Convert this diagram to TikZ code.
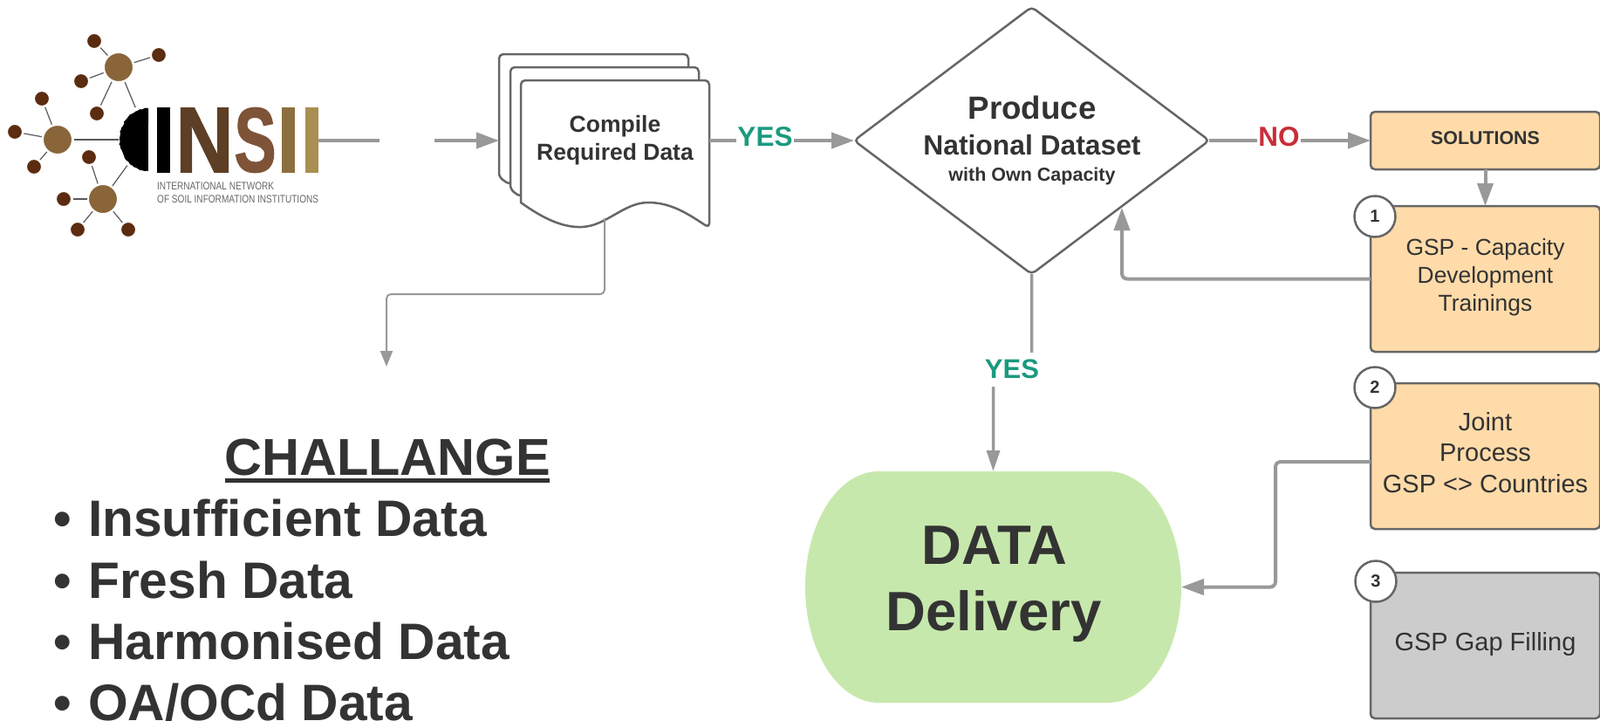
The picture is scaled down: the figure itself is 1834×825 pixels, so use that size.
\documentclass[tikz,border=0pt]{standalone}
\usepackage{fontspec}
\setmainfont{Liberation Sans}
\newfontfamily\logofont[UprightFont=* Bold,FakeBold=1.6]{Liberation Sans}
\usetikzlibrary{arrows.meta,shapes.geometric,decorations.pathmorphing}
\definecolor{ink}{HTML}{333333}
\definecolor{edgeg}{HTML}{666666}
\definecolor{lineg}{HTML}{999999}
\definecolor{okgreen}{HTML}{1A9A7F}
\definecolor{nored}{HTML}{C92D39}
\definecolor{peach}{HTML}{FFDBA9}
\definecolor{boxgrey}{HTML}{CCCCCC}
\definecolor{ovalg}{HTML}{C7E8AC}
\definecolor{satc}{HTML}{5B2C0F}
\definecolor{hubc}{HTML}{8A653A}
\definecolor{logoN}{HTML}{5C3F25}
\definecolor{logoS}{HTML}{7E5338}
\definecolor{logoI}{HTML}{8C6F3E}
\definecolor{logoJ}{HTML}{A98F52}
\newcommand\szf[1]{\fontsize{#1}{#1}\selectfont}
\newcommand\szl[2]{\fontsize{#1}{#2}\selectfont}
\tikzset{
 x=1pt,y=-1pt,
 sat/.style={circle,fill=satc,draw=white,line width=1pt,inner sep=0,minimum size=17pt,outer sep=0},
 hub/.style={circle,fill=hubc,draw=white,line width=1pt,inner sep=0,minimum size=33pt,outer sep=0},
 logolink/.style={draw=black!65,line width=1.2pt,shorten >=2pt,shorten <=2pt},
 letter/.style={inner sep=0,outer sep=0,anchor=center},
 sheet/.style={draw=edgeg,line width=2.5pt,fill=white,rounded corners=5pt,line join=round},
 flow/.style={draw=lineg,line width=4pt,rounded corners=6pt,-{Triangle[length=26pt,width=18pt]}},
 plainflow/.style={draw=lineg,line width=4pt,rounded corners=6pt},
 midflow/.style={draw=lineg,line width=3.5pt,rounded corners=3pt,-{Triangle[length=24pt,width=15pt]}},
 thinflow/.style={draw=lineg,line width=2pt,rounded corners=5pt,-{Triangle[length=18pt,width=14pt]}},
 orangebox/.style={rectangle,draw=edgeg,line width=2.5pt,fill=peach,rounded corners=5pt,minimum width=263pt,align=center,text=ink,inner sep=0,outer sep=0},
 numc/.style={circle,draw=edgeg,line width=2.5pt,fill=white,minimum size=47pt,inner sep=0,text=ink,font=\szf{20}\bfseries},
 lbl/.style={fill=white,inner sep=1pt,font=\szf{31.5}\bfseries},
 txt/.style={text=ink,inner sep=0,outer sep=0,align=center},
 bul/.style={text=ink,inner sep=0,anchor=base west,font=\szf{58.7}\bfseries},
}
\begin{document}
\begin{tikzpicture}
\useasboundingbox (0,0) rectangle (1834,825);
% logo
\node[hub] (ha) at (136,77) {};
\node[sat] (a1) at (108,47) {};
\node[sat] (a2) at (182,63) {};
\node[sat] (a3) at (93,93) {};
\node[sat] (a4) at (111,130) {};
\node[hub] (hb) at (66,160) {};
\node[sat] (b1) at (48,113) {};
\node[sat] (b2s) at (17,151) {};
\node[sat] (b3) at (39,191) {};
\node[hub] (hc) at (118,228) {};
\node[sat] (c1) at (102,180) {};
\node[sat] (c2) at (73,228) {};
\node[sat] (c3) at (89,263) {};
\node[sat] (c4) at (147,263) {};
\coordinate (semiA) at (156,125);
\coordinate (semiB) at (138,160);
\coordinate (semiC) at (147,188);
\foreach \p/\q in {ha/a1,ha/a2,ha/a3,ha/a4,hb/b1,hb/b2s,hb/b3,hc/c1,hc/c2,hc/c3,hc/c4,ha/semiA,hb/semiB,hc/semiC}
  \draw[logolink] (\p) -- (\q);
\fill[black] (170,124) decorate[decoration={random steps,segment length=2.5pt,amplitude=.8pt}]
  {arc[start angle=-90,end angle=-270,x radius=33,y radius=36]} -- cycle;
\node[letter,text=black] (li1) at (187.5,160.5) {\resizebox{26pt}{73pt}{\logofont I}};
\node[letter,text=logoN] (ln) at (234.5,160.5) {\resizebox{66pt}{73pt}{\logofont N}};
\node[letter,text=logoS] (ls) at (292.5,160.5) {\resizebox{48pt}{73pt}{\logofont S}};
\node[letter,text=logoI] (li2) at (330.5,160.5) {\resizebox{26pt}{73pt}{\logofont I}};
\node[letter,text=logoJ] (li3) at (357.5,160.5) {\resizebox{26pt}{73pt}{\logofont I}};
\node[inner sep=0,anchor=base west,text=black!60,align=left,font=\szl{12.5}{15}] (tag) at (180,232)
  {\scalebox{.805}[1]{INTERNATIONAL NETWORK}\\\scalebox{.805}[1]{OF SOIL INFORMATION INSTITUTIONS}};
% document stack
\draw[sheet] (585,212) -- (572,203) -- (572,62) -- (789,62) -- (789,90) -- (700,90) -- cycle;
\draw[sheet] (597,226) -- (585,217) -- (585,77) -- (801,77) -- (801,100) -- (700,100) -- cycle;
\draw[sheet] (597,232) -- (597,92) -- (813,92) -- (813,261) [sharp corners] .. controls (790,246) and (770,232) .. (743,232) .. controls (715,232) and (695,259) .. (667,260) .. controls (645,261) and (622,250) .. (597,232) -- cycle;
\node[txt,font=\szl{26.5}{32}\bfseries] (doc) at (705,160.4) {Compile\\Required Data};
\coordinate (docE) at (813,161);
\coordinate (docW) at (572,161);
\coordinate (docS) at (693,250);
% decision
\node[diamond,draw=edgeg,line width=2.5pt,fill=white,rounded corners=5pt,minimum width=407pt,minimum height=306pt,inner sep=0,outer sep=0] (dec) at (1182.5,161) {};
\coordinate (decIn) at (1286,238);
\node[txt,anchor=base,font=\szf{36.7}\bfseries] (t1) at (1183,136) {Produce};
\node[txt,anchor=base,font=\szf{31.8}\bfseries] (t2) at (1183,177) {National Dataset};
\node[txt,anchor=base,font=\szf{21.5}\bfseries] (t3) at (1183,207) {with Own Capacity};
% solutions
\node[orangebox,minimum height=66pt,text depth=5pt,font=\szf{21.4}\bfseries] (sol) at (1702.5,161) {SOLUTIONS};
\node[orangebox,minimum height=167pt,text depth=8.5pt,font=\szl{26.4}{32}] (b1) at (1702.5,319.5) {GSP - Capacity\\Development\\Trainings};
\node[orangebox,minimum height=167pt,text depth=9pt,font=\szl{29}{35.5}] (b2) at (1702.5,522.5) {Joint\\Process\\GSP <> Countries};
\node[orangebox,fill=boxgrey,minimum height=167pt,text depth=9pt,font=\szf{29}] (b3) at (1702.5,739.5) {GSP Gap Filling};
\node[numc] (n1) at (1576,248) {1};
\node[numc] (n2) at (1576,444) {2};
\node[numc] (n3) at (1577,666) {3};
\coordinate (b2out) at (b2.west |- 0,529);
% oval
\fill[ovalg] (1007,540) arc[start angle=-90,end angle=-270,x radius=84,y radius=132.5] -- (1270,805) arc[start angle=90,end angle=-90,x radius=84,y radius=132.5] -- cycle;
\node[inner sep=0,outer sep=0,minimum width=431pt,minimum height=265pt] (oval) at (1138.5,672.5) {};
\node[txt,anchor=base,font=\szf{63.5}\bfseries] (dd1) at (1140,646) {DATA};
\node[txt,anchor=base,font=\szf{63.5}\bfseries] (dd2) at (1139,722) {Delivery};
% challenge text
\node[txt,anchor=base,font=\szf{59.5}\bfseries] (ch) at (444,544) {CHALLANGE};
\fill[ink] (258,548) rectangle (630,553);
\node[bul] (i1) at (61,614) {\makebox[40pt][l]{•}Insufficient Data};
\node[bul] (i2) at (61,685) {\makebox[40pt][l]{•}Fresh Data};
\node[bul] (i3) at (61,755) {\makebox[40pt][l]{•}Harmonised Data};
\node[bul] (i4) at (61,825) {\makebox[40pt][l]{•}OA/OCd Data};
% connectors
\coordinate (logoE) at (365,161);
\coordinate (gapA) at (435,161);
\coordinate (gapB) at (498,161);
\draw[plainflow] (logoE) -- (gapA);
\draw[flow] (gapB) -- (docW);
\draw[flow] (docE) -- (dec.west);
\node[lbl,text=okgreen] (yes1) at (877,157) {YES};
\draw[flow] (dec.east) -- (sol.west);
\node[lbl,text=nored] (no) at (1466,157) {NO};
\draw[flow] (sol.south) -- (b1.north);
\draw[flow] (b1.west) -| (decIn);
\draw[flow] (b2out) -| (1462,672.5) -- (oval.east);
\draw[thinflow] (docS) |- (443,337) -- (443,420);
\draw[midflow] (dec.south) |- (oval.north |- 0,422) -- (oval.north);
\node[fill=white,inner sep=0,minimum width=94pt,minimum height=39pt,text=okgreen,font=\szf{31}\bfseries] (yes2) at (1160,423) {YES};
\end{tikzpicture}
\end{document}
